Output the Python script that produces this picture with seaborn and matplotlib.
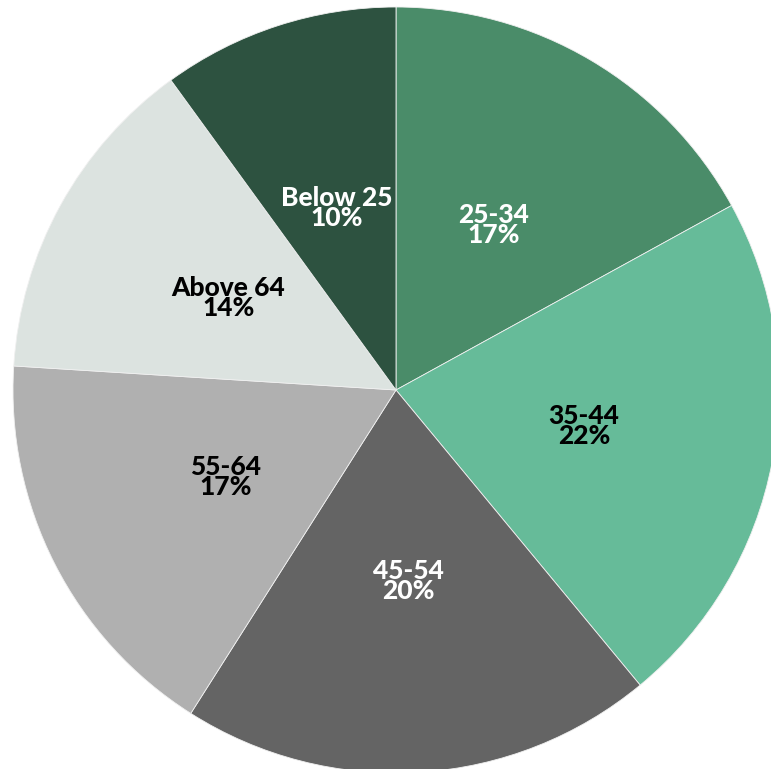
import matplotlib
matplotlib.use("Agg")
import matplotlib.pyplot as plt
import seaborn as sns

categories = ["25-34", "35-44", "45-54", "55-64", "Above 64", "Below 25"]
shares = [17, 22, 20, 17, 14, 10]
colors = ["#4a8c69", "#66bb99", "#646464", "#b0b0b0", "#dce3e0", "#2d5240"]
text_colors = ["white", "black", "white", "black", "black", "white"]

sns.set_style("white")
plt.rcParams["font.family"] = ["Lato", "DejaVu Sans"]

fig = plt.figure(figsize=(7.71, 7.69), dpi=100)
ax = fig.add_axes([0, 0, 1, 1])

labels = [f"{c}\n{v}%" for c, v in zip(categories, shares)]
wedges, texts = ax.pie(shares, colors=colors, labels=labels, startangle=90,
                       counterclock=False, labeldistance=0.5,
                       wedgeprops=dict(linewidth=0.6, edgecolor="#f0f0f0"),
                       textprops=dict(fontsize=19, fontweight="black",
                                      ha="center", va="center", linespacing=0.82))
for t, c in zip(texts, text_colors):
    t.set_color(c)

ax.set_xlim(-396 / 383, (771 - 396) / 383)
ax.set_ylim(-(769 - 390) / 383, 390 / 383)
ax.set_aspect("auto")
ax.axis("off")

fig.savefig("out.png", dpi=100)
